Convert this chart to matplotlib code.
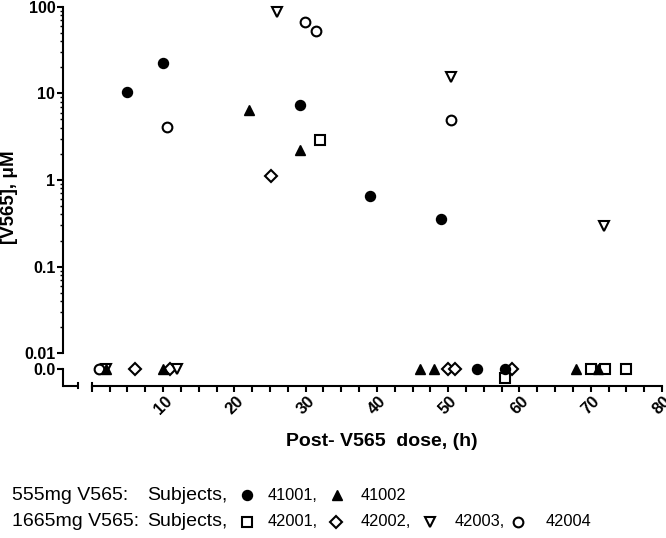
import matplotlib
matplotlib.use("Agg")
import matplotlib.pyplot as plt
import numpy as np
from matplotlib.lines import Line2D

plt.rcParams["font.family"] = ["Liberation Sans", "DejaVu Sans"]

# measured concentrations (uM) vs time post dose (h)
t_41001 = [5.0, 10.0, 29.2, 39.0, 49.0]
c_41001 = [10.3, 22.5, 7.4, 0.66, 0.355]
t_41002 = [22.0, 29.2]
c_41002 = [6.5, 2.2]
t_42001 = [32.0]
c_42001 = [2.9]
t_42002 = [25.1]
c_42002 = [1.1]
t_42003 = [26.0, 50.4, 71.8]
c_42003 = [88.0, 15.4, 0.296]
t_42004 = [10.6, 29.9, 31.4, 50.4]
c_42004 = [4.1, 67.0, 53.0, 4.95]

# below-limit samples, shown on the 0.0 row (second value = stacking offset)
blq_41001 = [54.0, 58.0]
blq_41002 = [2.0, 10.0, 46.0, 48.0, 68.0, 71.0]
blq_42001 = [58.0, 70.0, 72.0, 75.0]
blq_42001_off = [-0.53, 0, 0, 0]
blq_42002 = [6.0, 11.0, 50.0, 51.0, 59.0]
blq_42003 = [2.0, 12.0]
blq_42004 = [1.0]

subjects_lo = ["41001", "41002"]
subjects_hi = ["42001", "42002", "42003", "42004"]

styles = {
    "41001": dict(marker="o", ms=7.2, mfc="black", mec="black", mew=1.0),
    "41002": dict(marker="^", ms=7.6, mfc="black", mec="black", mew=1.0),
    "42001": dict(marker="s", ms=6.8, mfc="white", mec="black", mew=1.5),
    "42002": dict(marker="D", ms=6.0, mfc="white", mec="black", mew=1.5),
    "42003": dict(marker="v", ms=7.6, mfc="white", mec="black", mew=1.5),
    "42004": dict(marker="o", ms=7.0, mfc="white", mec="black", mew=1.5),
}

series = [
    ("42001", t_42001, c_42001, blq_42001, blq_42001_off),
    ("42002", t_42002, c_42002, blq_42002, None),
    ("42003", t_42003, c_42003, blq_42003, None),
    ("42004", t_42004, c_42004, blq_42004, None),
    ("41002", t_41002, c_41002, blq_41002, None),
    ("41001", t_41001, c_41001, blq_41001, None),
]

W, H = 666, 538
fig = plt.figure(figsize=(W / 100, H / 100), dpi=100)

x_left = 63 / W
x_w = (662 - 63) / W
ax_top = fig.add_axes([x_left, 1 - 353.3 / H, x_w, (353.3 - 6.7) / H])
ax_bot = fig.add_axes([x_left, 1 - 385.5 / H, x_w, (385.5 - 364) / H], sharex=ax_top)

for name, t, c, blq, off in series:
    st = styles[name]
    ax_top.plot(t, c, ls="none", clip_on=False, **st)
    yb = off if off is not None else [0] * len(blq)
    ax_bot.plot(blq, yb, ls="none", clip_on=False, **st)

lw = 1.5
# top panel: log axis
ax_top.set_yscale("log")
ax_top.set_ylim(0.01, 100)
ax_top.set_xlim(-4.04, 80)
for s in ["top", "right", "bottom"]:
    ax_top.spines[s].set_visible(False)
ax_top.spines["left"].set_linewidth(lw)
ax_top.set_yticks([0.01, 0.1, 1, 10, 100])
ax_top.set_yticklabels(["0.01", "0.1", "1", "10", "100"])
ax_top.tick_params(axis="y", which="major", length=4.5, width=lw, pad=1,
                   labelsize=11.5)
ax_top.tick_params(axis="y", which="minor", length=2.2, width=1.0)
ax_top.tick_params(axis="x", which="both", bottom=False, labelbottom=False)
for lab in ax_top.get_yticklabels():
    lab.set_fontweight("bold")

# bottom panel: zero row + x axis
ax_bot.set_ylim(-1.0, 0.294)
for s in ["top", "right"]:
    ax_bot.spines[s].set_visible(False)
ax_bot.spines["left"].set_bounds(-1.0, 0)
ax_bot.spines["left"].set_linewidth(lw)
ax_bot.spines["bottom"].set_bounds(0, 80)
ax_bot.spines["bottom"].set_linewidth(lw)
ax_bot.set_yticks([0])
ax_bot.set_yticklabels(["0.0"])
ax_bot.tick_params(axis="y", length=4.5, width=lw, pad=1, labelsize=11.5)
ax_bot.set_xticks(np.arange(0, 81, 10))
ax_bot.set_xticklabels([""] + [str(v) for v in range(10, 81, 10)], rotation=45)
ax_bot.set_xticks(np.arange(0, 80, 2.5), minor=True)
ax_bot.tick_params(axis="x", which="major", length=4.5, width=lw, pad=1,
                   labelsize=12)
ax_bot.tick_params(axis="x", which="minor", length=4.0, width=lw)
for lab in ax_bot.get_yticklabels() + ax_bot.get_xticklabels():
    lab.set_fontweight("bold")

# axis break: short stub at left, caps on both sides of the gap
ax_bot.plot([-4.04, -2.0], [-1.0, -1.0], color="black", lw=lw, clip_on=False,
            solid_capstyle="butt")
for xb in [-2.0, 0.0]:
    ax_bot.plot([xb, xb], [-1.16, -0.84], color="black", lw=lw, clip_on=False)

fig.text(381.5 / W, 1 - 442 / H, "Post- V565  dose, (h)", ha="center",
         va="center", fontsize=14, fontweight="bold")
fig.text(10 / W, 1 - 197 / H, "[V565], \u03bcM", ha="center", va="center",
         rotation=90, fontsize=13.5, fontweight="bold")

# legend rows
def legend_row(y_px, prefix, names, mark_x, num_x):
    fig.text(12 / W, 1 - y_px / H, prefix, ha="left", va="center", fontsize=14)
    fig.text(147 / W, 1 - y_px / H, "Subjects,", ha="left", va="center",
             fontsize=14)
    for i, name in enumerate(names):
        fig.add_artist(Line2D([mark_x[i] / W], [1 - y_px / H], ls="none",
                              transform=fig.transFigure, **styles[name]))
        label = name + ("," if i < len(names) - 1 else "")
        fig.text(num_x[i] / W, 1 - y_px / H, label, ha="left", va="center",
                 fontsize=11.8)


legend_row(495, "555mg V565:", subjects_lo, [247, 337], [268, 361])
legend_row(522, "1665mg V565:", subjects_hi, [247, 336, 430, 518],
           [268, 361, 455, 546])

fig.savefig("out.png", dpi=100)
